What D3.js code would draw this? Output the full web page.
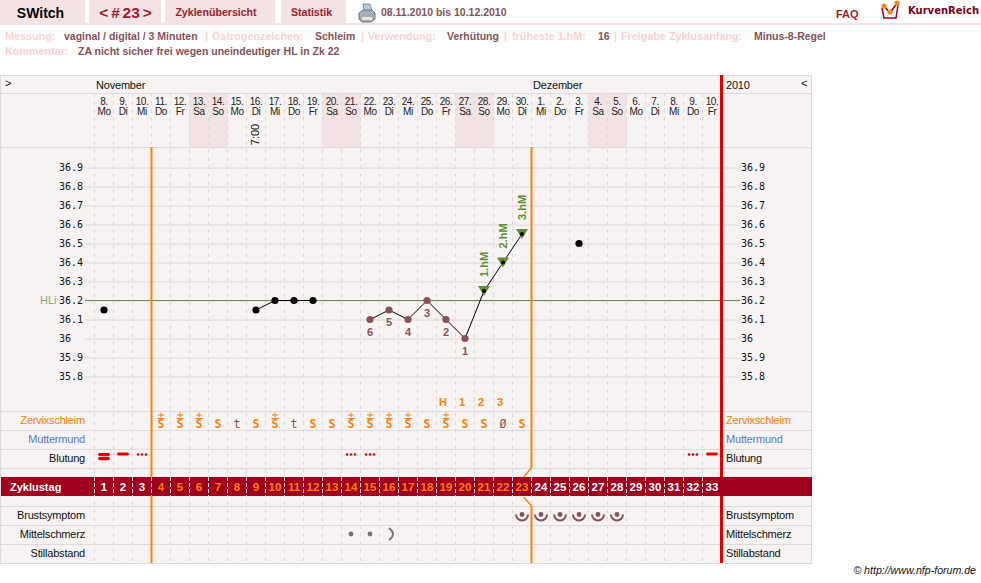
<!DOCTYPE html>
<html lang="de">
<head>
<meta charset="utf-8">
<title>Zyklus 23</title>
<script src="https://cdn.jsdelivr.net/npm/d3@7/dist/d3.min.js"></script>
<style>
html,body{margin:0;padding:0;background:#fff;overflow:hidden}
svg{display:block}
text{font-family:"Liberation Sans",Arial,sans-serif}
</style>
</head>
<body>
<svg id="chart" width="981" height="583"></svg>
<script>
// Calendar columns
const dayNumbers = [8,9,10,11,12,13,14,15,16,17,18,19,20,21,22,23,24,25,26,27,28,29,30,1,2,3,4,5,6,7,8,9,10];
const weekdays = ["Mo","Di","Mi","Do","Fr","Sa","So","Mo","Di","Mi","Do","Fr","Sa","So","Mo","Di","Mi","Do","Fr","Sa","So","Mo","Di","Mi","Do","Fr","Sa","So","Mo","Di","Mi","Do","Fr"];
const weekendColumns = [5,6,12,13,19,20,26,27];
const cycleDays = d3.range(1,34);

// Temperature readings, one per column; null where nothing was measured
const temperatures = [36.15,null,null,null,null,null,null,null,36.15,36.2,36.2,36.2,null,null,36.1,36.15,36.1,36.2,36.1,36.0,36.25,36.4,36.55,null,null,36.5,null,null,null,null,null,null,null];
const tempTicks = [36.9,36.8,36.7,36.6,36.5,36.4,36.3,36.2,36.1,36,35.9,35.8];
const coverLine = 36.2;
const lowCount = [{col:14,n:6},{col:15,n:5},{col:16,n:4},{col:17,n:3},{col:18,n:2},{col:19,n:1}];
const highMarks = [{col:20,t:"1.hM"},{col:21,t:"2.hM"},{col:22,t:"3.hM"}];

// Symptom rows
const peakCount = [{col:18,t:"H"},{col:19,t:"1"},{col:20,t:"2"},{col:21,t:"3"}];
const mucus = [{c:3,s:"S",p:1},{c:4,s:"S",p:1},{c:5,s:"S",p:1},{c:6,s:"S",p:0},{c:7,s:"t",p:0},{c:8,s:"S",p:0},{c:9,s:"S",p:1},{c:10,s:"t",p:0},{c:11,s:"S",p:0},{c:12,s:"S",p:0},{c:13,s:"S",p:1},{c:14,s:"S",p:1},{c:15,s:"S",p:1},{c:16,s:"S",p:1},{c:17,s:"S",p:0},{c:18,s:"S",p:1},{c:19,s:"S",p:0},{c:20,s:"S",p:0},{c:21,s:"Ø",p:0},{c:22,s:"S",p:0}];
const bleeding = [{c:0,k:"heavy"},{c:1,k:"medium"},{c:2,k:"spot"},{c:13,k:"spot"},{c:14,k:"spot"},{c:31,k:"spot"},{c:32,k:"medium"}];
const breastDays = [22,23,24,25,26,27];
const painDots = [13,14];
const painArc = [15];
const leftRows = [{t:"Zervixschleim",c:"#ff8000",y:424},{t:"Muttermund",c:"#5b78cf",y:443},{t:"Blutung",c:"#111",y:462},{t:"Brustsymptom",c:"#111",y:519},{t:"Mittelschmerz",c:"#111",y:538},{t:"Stillabstand",c:"#111",y:557}];
const rowLines = [411.5,430.5,449.5,468.5,506.5,525.5,544.5,563.5];
const tabs = [{x:0,w:85},{x:89,w:72},{x:165,w:110},{x:281,w:65}];
const metaTexts = [
  {x:5,y:40,t:"Messung:",k:"l"},{x:64,y:40,t:"vaginal / digital / 3 Minuten",k:"v"},{x:205,y:40,t:"|",k:"l"},
  {x:212,y:40,t:"Östrogenzeichen:",k:"l"},{x:315,y:40,t:"Schleim",k:"v"},{x:361,y:40,t:"|",k:"l"},
  {x:368,y:40,t:"Verwendung:",k:"l"},{x:447,y:40,t:"Verhütung",k:"v"},{x:504,y:40,t:"|",k:"l"},
  {x:512,y:40,t:"früheste 1.hM:",k:"l"},{x:598,y:40,t:"16",k:"v"},{x:614,y:40,t:"|",k:"l"},
  {x:621,y:40,t:"Freigabe Zyklusanfang:",k:"l"},{x:754,y:40,t:"Minus-8-Regel",k:"v"},
  {x:5,y:55,t:"Kommentar:",k:"l"},{x:78,y:55,t:"ZA nicht sicher frei wegen uneindeutiger HL in Zk 22",k:"v"}
];

const svg = d3.select("#chart");
const tabFill="#f3e3e5", panel="#f8f3f3", grid="#dedad9", wine="#a0001e", tabText="#a01c2c",
      brown="#85525a", orange="#ff8000", red="#e00000", green="#5f9035";

const x = d3.scaleBand().domain(d3.range(33)).range([94.5,721.5]);
const cx = i => x(i)+x.bandwidth()/2;
const y = d3.scaleLinear().domain([36.9,35.8]).range([167.5,376.5]);

// Page header
svg.selectAll("rect.tab").data(tabs).join("rect").attr("class","tab")
  .attr("x",d=>d.x).attr("y",0).attr("width",d=>d.w).attr("height",23).attr("fill",tabFill);
svg.append("rect").attr("x",0).attr("y",23).attr("width",981).attr("height",2).attr("fill",tabFill);
const head=(t,xp,yp,s,c,a="middle",f="bold")=>svg.append("text").attr("x",xp).attr("y",yp).attr("font-size",s)
  .attr("font-weight",f).attr("fill",c).attr("text-anchor",a).text(t);
head("SWitch",40.5,18,14,"#000");
head("< # 23 >",125.5,18,15.5,tabText).attr("word-spacing",-1.5);
head("Zyklenübersicht",216,16,10.6,tabText);
head("Statistik",311.5,16,10.6,tabText);
head("08.11.2010 bis 10.12.2010",381,16,10.5,"#85525a","start");
head("FAQ",836,18,11,tabText,"start");
head("KurvenReich",908,14,10,"#7c0018","start").style("font-family","'DejaVu Sans'");

// Printer icon
const printer=svg.append("g").attr("transform","translate(359,4)");
printer.append("path").attr("d","M4 0h7l2 7H5z").attr("fill","#b9cbe0").attr("stroke","#7f8c99");
printer.append("path").attr("d","M0 9l4-3h9l3 3v6l-4 3H3l-3-3z").attr("fill","#a9adb3").attr("stroke","#70757b");
printer.append("path").attr("d","M3 13h10v3H3z").attr("fill","#e6e7e9");

// Logo mark
const logo=svg.append("g").attr("transform","translate(881,1)");
logo.append("path").attr("d","M1 7l2 10h12l2-13").attr("fill","#fff").attr("stroke","#a0001e").attr("stroke-width",1.5);
logo.append("path").attr("d","M3 5l6 7l7-10").attr("fill","none").attr("stroke","#a0001e").attr("stroke-width",1.5);
logo.selectAll("circle").data([[3,5],[9,11],[16,2]]).join("circle").attr("cx",d=>d[0]).attr("cy",d=>d[1]).attr("r",2.6).attr("fill","#f5871f");

// Cycle metadata lines
svg.selectAll("text.meta").data(metaTexts).join("text").attr("class","meta")
  .attr("x",d=>d.x).attr("y",d=>d.y).attr("font-size",d=>d.k==="l"?10.8:10.5).attr("font-weight","bold")
  .attr("fill",d=>d.k==="l"?"#fbd2d2":"#85525a").text(d=>d.t);

// Chart panel and weekend shading
svg.append("rect").attr("x",0.5).attr("y",75.5).attr("width",811).attr("height",488).attr("fill",panel).attr("stroke",grid);
svg.selectAll("rect.weekend").data(weekendColumns).join("rect").attr("class","weekend")
  .attr("x",d=>x(d)).attr("y",93).attr("width",x.bandwidth()).attr("height",54).attr("fill",tabFill);
[93.5,147.5].forEach(v=>svg.append("line").attr("x1",0).attr("x2",812).attr("y1",v).attr("y2",v).attr("stroke",grid));
svg.selectAll("line.row").data(rowLines).join("line").attr("class","row")
  .attr("x1",0).attr("x2",812).attr("y1",d=>d).attr("y2",d=>d).attr("stroke",grid);

// Day columns
svg.selectAll("line.col").data(d3.range(33)).join("line").attr("class","col")
  .attr("x1",d=>x(d)).attr("x2",d=>x(d)).attr("y1",93).attr("y2",563)
  .attr("stroke",grid).attr("stroke-dasharray","4 4").attr("stroke-width",1);

// Month row and dates
const cal=(t,xp,yp,a="start")=>svg.append("text").attr("x",xp).attr("y",yp).attr("font-size",11).attr("text-anchor",a)
  .attr("letter-spacing",-0.2).attr("fill","#111").text(t);
cal(">",5,87); cal("November",96,89); cal("Dezember",533,89); cal("2010",726,89); cal("<",801,87);
svg.selectAll("text.day").data(dayNumbers).join("text").attr("class","day").attr("x",(d,i)=>cx(i)).attr("y",105)
  .attr("text-anchor","middle").attr("font-size",10).attr("letter-spacing",-0.4).attr("fill","#222").text(d=>d+".");
svg.selectAll("text.wd").data(weekdays).join("text").attr("class","wd").attr("x",(d,i)=>cx(i)).attr("y",115)
  .attr("text-anchor","middle").attr("font-size",10).attr("letter-spacing",-0.4).attr("fill","#222").text(d=>d);
svg.append("text").attr("transform",`translate(${cx(8)+3},134.5) rotate(-90)`).attr("text-anchor","middle")
  .attr("font-size",11).attr("fill","#111").text("7:00");

// Temperature axes with horizontal grid
const axisFont="'DejaVu Sans Mono',monospace";
const leftAxis=svg.append("g").attr("transform","translate(85,0)")
  .call(d3.axisLeft(y).tickValues(tempTicks).tickSizeInner(-655).tickSizeOuter(0).tickFormat(d=>String(d)));
leftAxis.select(".domain").remove();
leftAxis.selectAll("line").attr("stroke",grid);
leftAxis.selectAll("text").attr("x",-26).attr("text-anchor","start").attr("font-size",10).attr("fill","#111").style("font-family",axisFont);
const rightAxis=svg.append("g").attr("transform","translate(741,0)")
  .call(d3.axisRight(y).tickValues(tempTicks).tickSize(0).tickPadding(0).tickFormat(d=>String(d)));
rightAxis.select(".domain").remove();
rightAxis.selectAll("text").attr("font-size",10).attr("fill","#111").style("font-family",axisFont);

// Cover line
svg.append("line").attr("x1",85).attr("x2",740).attr("y1",y(coverLine)).attr("y2",y(coverLine)).attr("stroke","#6d8f52").attr("stroke-width",1);
svg.append("text").attr("x",40).attr("y",y(coverLine)+3).attr("font-size",11).attr("fill","#8aa86e").text("HLi");

// Phase boundaries
const vLine=(xp,y1,y2,c,w)=>svg.append("line").attr("x1",xp).attr("x2",xp).attr("y1",y1).attr("y2",y2).attr("stroke",c).attr("stroke-width",w);
const firstPhase=x(3), thirdPhase=x(23), endX=x(32)+x.bandwidth();
vLine(firstPhase,147,563,orange,2);
vLine(thirdPhase,147,468,orange,2);
vLine(thirdPhase,506,563,orange,2);
svg.append("path").attr("d",`M${thirdPhase} 468L${thirdPhase-8} 477M${thirdPhase-8} 497L${thirdPhase} 506`).attr("stroke",orange).attr("stroke-width",1.3).attr("fill","none");
vLine(endX,75,563,red,3);

// Temperature curve
const pts=temperatures.map((v,i)=>({i,v}));
svg.append("path").attr("fill","none").attr("stroke","#000").attr("stroke-width",1)
  .attr("d",d3.line().defined(d=>d.v!==null).x(d=>cx(d.i)).y(d=>y(d.v))(pts));
const lowCols=lowCount.map(d=>d.col), highCols=highMarks.map(d=>d.col);
const valid=pts.filter(d=>d.v!==null);
svg.selectAll("path.tri").data(valid.filter(d=>highCols.includes(d.i))).join("path").attr("class","tri")
  .attr("d",d=>`M${cx(d.i)-6} ${y(d.v)-5}h12l-6 10z`).attr("fill",green);
svg.selectAll("circle.pt").data(valid).join("circle").attr("class","pt")
  .attr("cx",d=>cx(d.i)).attr("cy",d=>y(d.v))
  .attr("r",d=>highCols.includes(d.i)?2:3.6)
  .attr("fill",d=>lowCols.includes(d.i)?brown:"#000");
svg.selectAll("text.low").data(lowCount).join("text").attr("class","low")
  .attr("x",d=>cx(d.col)).attr("y",d=>y(temperatures[d.col])+16).attr("text-anchor","middle")
  .attr("font-size",11).attr("font-weight","bold").attr("fill",brown).text(d=>d.n);
svg.selectAll("text.hm").data(highMarks).join("text").attr("class","hm")
  .attr("transform",d=>`translate(${cx(d.col)+4},${y(temperatures[d.col])-14}) rotate(-90)`)
  .attr("font-size",11).attr("font-weight","bold").attr("fill",green).text(d=>d.t);

// Peak-day count
svg.selectAll("text.peak").data(peakCount).join("text").attr("class","peak")
  .attr("x",d=>cx(d.col)-3).attr("y",406).attr("text-anchor","middle")
  .attr("font-size",11).attr("font-weight","bold").attr("fill",orange).text(d=>d.t);

// Row labels on both sides
svg.selectAll("text.rl").data(leftRows).join("text").attr("class","rl").attr("x",85).attr("y",d=>d.y).attr("text-anchor","end")
  .attr("font-size",11).attr("letter-spacing",-0.2).attr("fill",d=>d.c).text(d=>d.t);
svg.selectAll("text.rr").data(leftRows).join("text").attr("class","rr").attr("x",726).attr("y",d=>d.y)
  .attr("font-size",11).attr("letter-spacing",-0.2).attr("fill",d=>d.c).text(d=>d.t);

// Cervical mucus symbols
const mg=svg.selectAll("g.mucus").data(mucus).join("g").attr("class","mucus").attr("transform",d=>`translate(${cx(d.c)},0)`);
mg.append("text").attr("y",427.5).attr("text-anchor","middle").attr("font-size",11.5).attr("font-weight",d=>d.s==="S"?"bold":"normal")
  .style("font-family","'DejaVu Sans Mono',monospace").attr("fill",d=>d.s==="S"?orange:brown).text(d=>d.s);
mg.filter(d=>d.p).append("path").attr("d","M-3 415h6M0 412.5v5M-3.5 418.5h7").attr("stroke",orange).attr("stroke-width",1).attr("fill","none");

// Bleeding marks
const bl=svg.selectAll("g.bleed").data(bleeding).join("g").attr("class","bleed").attr("transform",d=>`translate(${cx(d.c)},0)`).attr("fill",red);
bl.filter(d=>d.k==="heavy").selectAll("rect").data([453,457]).join("rect").attr("x",-5.8).attr("y",d=>d).attr("width",11.6).attr("height",3.2).attr("rx",1.4);
bl.filter(d=>d.k==="medium").append("rect").attr("x",-5.8).attr("y",452.6).attr("width",11.6).attr("height",3).attr("rx",1.4);
bl.filter(d=>d.k==="spot").selectAll("circle").data([-4,0,4]).join("circle").attr("cx",d=>d).attr("cy",454.5).attr("r",1.3);

// Cycle day band
svg.append("rect").attr("x",1).attr("y",477).attr("width",811).attr("height",19).attr("fill",wine);
svg.selectAll("line.tickbar").data(d3.range(33)).join("line").attr("class","tickbar").attr("x1",d=>x(d)).attr("x2",d=>x(d))
  .attr("y1",477).attr("y2",496).attr("stroke","#f4dfe0").attr("stroke-dasharray","4 2");
svg.append("text").attr("x",10).attr("y",491).attr("font-size",11).attr("font-weight","bold").attr("fill","#fff").text("Zyklustag");
svg.selectAll("text.cd").data(cycleDays).join("text").attr("class","cd").attr("x",(d,i)=>cx(i)).attr("y",491).attr("text-anchor","middle")
  .attr("font-size",11.5).attr("font-weight","bold").attr("fill",d=>d>=4&&d<=23?orange:"#fff").text(d=>d);

// Breast symptom marks
const bg=svg.selectAll("g.breast").data(breastDays).join("g").attr("class","breast").attr("transform",d=>`translate(${cx(d)},514.5)`);
bg.append("circle").attr("r",2.4).attr("cy",0).attr("fill",brown);
bg.append("path").attr("d","M-6 0A6 6 0 0 0 6 0").attr("fill","none").attr("stroke",brown).attr("stroke-width",2);

// Mid-cycle pain marks
svg.selectAll("circle.pain").data(painDots).join("circle").attr("class","pain").attr("cx",d=>cx(d)).attr("cy",534).attr("r",2.4).attr("fill","#7a7070");
svg.selectAll("path.arc").data(painArc).join("path").attr("class","arc").attr("transform",d=>`translate(${cx(d)},534)`)
  .attr("d","M0-6Q8 0 0 6").attr("fill","none").attr("stroke","#7a7070").attr("stroke-width",1.8);

// Footer
svg.append("text").attr("x",976).attr("y",574).attr("text-anchor","end").attr("font-size",10.6).attr("font-style","italic").attr("fill","#111").text("© http://www.nfp-forum.de");
</script>
</body>
</html>
